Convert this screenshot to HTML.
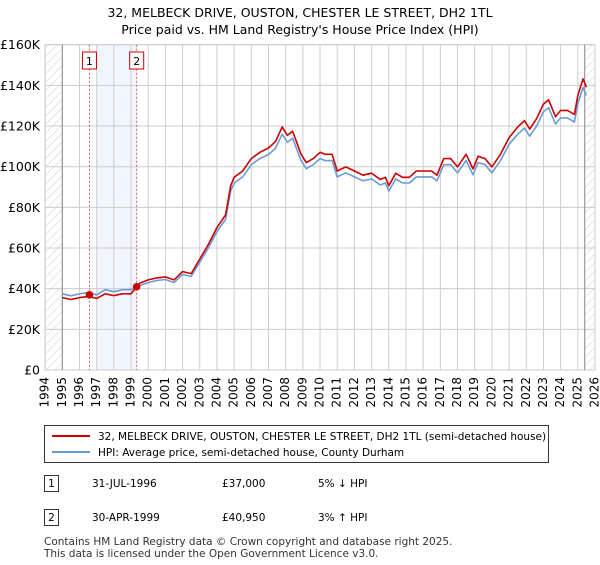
<!DOCTYPE html>
<html><head><meta charset="utf-8"><style>
body{margin:0;background:#fff;font-family:"Liberation Sans","DejaVu Sans",sans-serif;}
svg text{font-family:"DejaVu Sans","Liberation Sans",sans-serif;}
</style></head><body>
<svg width="600" height="560" viewBox="0 0 600 560" xmlns="http://www.w3.org/2000/svg">
<defs><pattern id="hatch" width="6" height="6" patternUnits="userSpaceOnUse" patternTransform="rotate(45)"><line x1="0" y1="0" x2="0" y2="6" stroke="#ccc" stroke-width="1"/></pattern></defs>
<text x="300" y="17" text-anchor="middle" font-size="12.5">32, MELBECK DRIVE, OUSTON, CHESTER LE STREET, DH2 1TL</text>
<text x="300" y="34" text-anchor="middle" font-size="12.5">Price paid vs. HM Land Registry's House Price Index (HPI)</text>
<g id="plot"></g>
<g>
<rect x="44.5" y="425.5" width="504" height="37" fill="#fff" stroke="#333"/>
<line x1="52" y1="436" x2="90" y2="436" stroke="#cc0000" stroke-width="2"/>
<text x="98" y="440" font-size="10.5">32, MELBECK DRIVE, OUSTON, CHESTER LE STREET, DH2 1TL (semi-detached house)</text>
<line x1="52" y1="452" x2="90" y2="452" stroke="#6a9bd8" stroke-width="2"/>
<text x="98" y="456" font-size="10.5">HPI: Average price, semi-detached house, County Durham</text>
</g>
<g font-size="10.5">
<rect x="44.5" y="475.5" width="14" height="16" fill="#fff" stroke="#333"/><text x="51.5" y="487" text-anchor="middle">1</text>
<text x="92" y="487">31-JUL-1996</text><text x="222" y="487">£37,000</text><text x="318" y="487">5% ↓ HPI</text>
<rect x="44.5" y="509.5" width="14" height="16" fill="#fff" stroke="#333"/><text x="51.5" y="521" text-anchor="middle">2</text>
<text x="92" y="521">30-APR-1999</text><text x="222" y="521">£40,950</text><text x="318" y="521">3% ↑ HPI</text>
</g>
<text x="44" y="545" font-size="10.5" fill="#333">Contains HM Land Registry data © Crown copyright and database right 2025.</text>
<text x="44" y="557" font-size="10.5" fill="#333">This data is licensed under the Open Government Licence v3.0.</text>
</svg>
<script>
const years=[1995.0,1995.5,1996.0,1996.5,1997.0,1997.5,1998.0,1998.5,1999.0,1999.5,2000.0,2000.5,2001.0,2001.5,2002.0,2002.5,2003.0,2003.5,2004.0,2004.5,2004.8,2005.0,2005.5,2006.0,2006.5,2007.0,2007.4,2007.8,2008.1,2008.4,2008.9,2009.2,2009.6,2010.0,2010.3,2010.7,2011.0,2011.5,2012.0,2012.5,2013.0,2013.5,2013.8,2014.0,2014.4,2014.8,2015.2,2015.6,2016.0,2016.5,2016.8,2017.2,2017.6,2018.0,2018.5,2018.9,2019.2,2019.6,2020.0,2020.5,2021.0,2021.5,2021.9,2022.2,2022.6,2023.0,2023.3,2023.7,2024.0,2024.4,2024.8,2025.0,2025.3,2025.5];
const hpi=[37.5,36.5,37.5,38,37,39.5,38.5,39.5,39.5,41.5,43,44,44.5,43,47,46,53,60,68,74,88,92,95,101,104,106,109,116,112,114,103,99,101,104,103,103,95,97,95,93,94,91,92,88,94,92,92,95,95,95,93,101,101,97,103,96,102,101,97,103,111,116,119,115,120,127,129,121,124,124,122,131,139,135];
const pricePaid=[35.6,34.7,35.6,36.1,35.2,37.5,36.6,37.5,37.5,42.7,44.3,45.3,45.8,44.3,48.4,47.4,54.6,61.8,70.0,76.2,90.6,94.8,97.9,104.0,107.1,109.2,112.3,119.5,115.4,117.4,106.1,102.0,104.0,107.1,106.1,106.1,97.9,99.9,97.9,95.8,96.8,93.7,94.8,90.6,96.8,94.8,94.8,97.9,97.9,97.9,95.8,104.0,104.0,99.9,106.1,98.9,105.1,104.0,99.9,106.1,114.3,119.5,122.6,118.5,123.6,130.8,132.9,124.6,127.7,127.7,125.7,134.9,143.2,139.1];
const saleYears=[1996.58,1999.33];
const salePrices=[37.0,40.95];
const saleLabels=["1","2"];
const yTicks=[0,20,40,60,80,100,120,140,160];
const xTicks=[1994,1995,1996,1997,1998,1999,2000,2001,2002,2003,2004,2005,2006,2007,2008,2009,2010,2011,2012,2013,2014,2015,2016,2017,2018,2019,2020,2021,2022,2023,2024,2025,2026];

const NS="http://www.w3.org/2000/svg";
const L=45.1,R=595,T=44.7,B=370;
const X=y=>L+(y-1994)*(R-L)/32;
const Y=v=>B-v*(B-T)/160;
const g=document.getElementById('plot');
function mk(tag,attrs){const e=document.createElementNS(NS,tag);for(const k in attrs)e.setAttribute(k,attrs[k]);g.appendChild(e);return e;}
let e;
e=mk('rect',{x:L,y:T,width:R-L,height:B-T,fill:'#fff',stroke:'#ccc'});


e=mk('rect',{x:L,y:T,width:X(1995)-L,height:B-T,fill:'url(#hatch)'});


e=mk('rect',{x:X(2025.4),y:T,width:R-X(2025.4),height:B-T,fill:'url(#hatch)'});


e=mk('rect',{x:X(1997),y:T,width:X(saleYears[1])-X(1997),height:B-T,fill:'#eef3fc',opacity:0.8});


xTicks.forEach(t=>{
 e=mk('line',{x1:X(t),x2:X(t),y1:T,y2:B,stroke:'#ccc'});
 
 
 e=mk('text',{x:X(t),y:B+7,'font-size':12,'text-anchor':'end',transform:`rotate(-90 ${X(t)} ${B+7})`,'dominant-baseline':'middle'});
 e.textContent=t;
 
 
});
yTicks.forEach(t=>{
 e=mk('line',{x1:L,x2:R,y1:Y(t),y2:Y(t),stroke:'#ccc'});
 
 
 e=mk('text',{x:40,y:Y(t)+4.5,'font-size':12.5,'text-anchor':'end'});
 e.textContent=t===0?'£0':'£'+t+'K';
 
 
});
e=mk('line',{x1:X(1995),x2:X(1995),y1:T,y2:B,stroke:'#888'});


e=mk('line',{x1:X(2025.4),x2:X(2025.4),y1:T,y2:B,stroke:'#888'});


saleYears.forEach((s,i)=>{
 e=mk('line',{x1:X(s),x2:X(s),y1:T,y2:B,stroke:'#e55','stroke-dasharray':'2,2'});
 
 
 e=mk('rect',{x:X(s)-7,y:52,width:14,height:17,fill:'#fff',stroke:'#c00'});
 
 
 e=mk('text',{x:X(s),y:65,'font-size':11,'text-anchor':'middle'});
 e.textContent=saleLabels[i];
 
 
});
function line(vals,color,name){
 const d=vals.map((v,i)=>(i?'L':'M')+X(years[i]).toFixed(1)+','+Y(v).toFixed(1)).join('');
 e=mk('path',{d:d,fill:'none',stroke:color,'stroke-width':1.6,'stroke-linejoin':'round'});
 
 
}
line(hpi,'#6a9bd8','hpi-line');
line(pricePaid,'#cc0000','price-paid-line');
saleYears.forEach((s,i)=>{
 e=mk('circle',{cx:X(s),cy:Y(salePrices[i]),r:3.8,fill:'#cc0000'});
 
 
});
</script>
</body></html>
